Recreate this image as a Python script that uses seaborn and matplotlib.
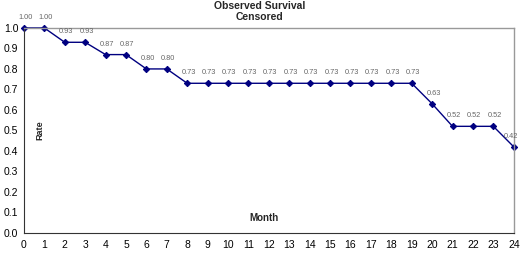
import numpy as np
import pandas as pd
import seaborn as sns
import matplotlib
matplotlib.use("Agg")
import matplotlib.pyplot as plt

months = list(range(0, 25))
rate = [1.00, 1.00, 0.93, 0.93, 0.87, 0.87, 0.80, 0.80,
        0.73, 0.73, 0.73, 0.73, 0.73, 0.73, 0.73, 0.73, 0.73, 0.73, 0.73, 0.73,
        0.63, 0.52, 0.52, 0.52, 0.42]
labels = ['1.00', '1.00', '0.93', '0.93', '0.87', '0.87', '0.80', '0.80',
          '0.73', '0.73', '0.73', '0.73', '0.73', '0.73', '0.73', '0.73', '0.73', '0.73', '0.73', '0.73',
          '0.63', '0.52', '0.52', '0.52', '0.42']

df = pd.DataFrame({'Month': months, 'Rate': rate})

sns.set_style('white')
plt.rcParams['font.family'] = ['Liberation Sans', 'DejaVu Sans']

fig = plt.figure(figsize=(5.2, 2.54), dpi=100)
ax = fig.add_axes([0.046, 0.083, 0.942, 0.807])

sns.lineplot(data=df, x='Month', y='Rate', ax=ax, color='#000080', lw=1.0,
             marker='D', markersize=3.2, markeredgecolor='#000080')

for m, r, lab in zip(months, rate, labels):
    ha = 'right' if m == months[-1] else 'center'
    dx = 3 if m == months[-1] else 1
    ax.annotate(lab, (m, r), xytext=(dx, 5), textcoords='offset points',
                ha=ha, va='bottom', fontsize=5.3, color='#666666')

ax.set_xlim(0, 24)
ax.set_ylim(0, 1.0)
ax.set_xticks(months)
ax.set_yticks(np.arange(0, 1.01, 0.1))
ax.set_yticklabels(['%.1f' % v for v in np.arange(0, 1.01, 0.1)])
ax.tick_params(axis='x', labelsize=7.5, length=2, direction='inout', pad=4, colors='black')
ax.tick_params(axis='y', labelsize=7.5, length=2, direction='out', pad=2, colors='black')

ax.set_xlabel('')
ax.set_ylabel('')
ax.text(0.49, 0.075, 'Month', transform=ax.transAxes, fontsize=7, fontweight='bold',
        ha='center', va='center')
ax.text(0.032, 0.5, 'Rate', transform=ax.transAxes, fontsize=6.5, fontweight='bold',
        ha='center', va='center', rotation=90)

for s in ['top', 'right']:
    ax.spines[s].set_color('#999999')
    ax.spines[s].set_linewidth(1.0)
for s in ['left', 'bottom']:
    ax.spines[s].set_color('#333333')
    ax.spines[s].set_linewidth(0.8)
for line in ax.lines:
    line.set_clip_on(False)

fig.text(0.5, 0.995, 'Observed Survival\nCensored', ha='center', va='top',
         fontsize=7.5, fontweight='bold', linespacing=1.1)

fig.savefig('out.png', dpi=100)
